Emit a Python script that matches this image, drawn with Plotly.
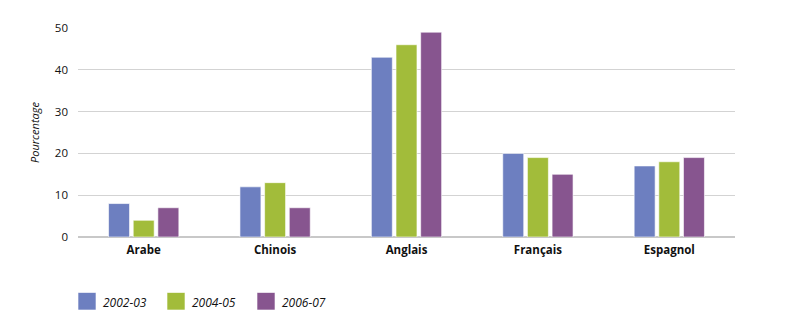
import plotly.graph_objects as go

categories = ["Arabe", "Chinois", "Anglais", "Français", "Espagnol"]
series_names = ["2002-03", "2004-05", "2006-07"]
v_2002 = [8, 12, 43, 20, 17]
v_2004 = [4, 13, 46, 19, 18]
v_2006 = [7, 7, 49, 15, 19]
colors = ["#6D7FC0", "#A2BC3A", "#87558F"]
y_ticks = [0, 10, 20, 30, 40, 50]

fig = go.Figure()
for name, vals, col in zip(series_names, [v_2002, v_2004, v_2006], colors):
    fig.add_trace(go.Bar(
        x=categories, y=vals, name=name, showlegend=False,
        marker=dict(color=col, line=dict(color="rgba(255,255,255,0.6)", width=1)),
    ))

# manual legend (paper coordinates, pixels converted)
W, H = 800, 327
ml, mr, mt, mb = 78, 65, 28, 90
pw, ph = W - ml - mr, H - mt - mb
def px_x(x):
    return (x - ml) / pw
def px_y(y):
    return (H - mb - y) / ph

legend_x = [78, 167, 257]
for name, col, lx in zip(series_names, colors, legend_x):
    fig.add_shape(type="rect", xref="paper", yref="paper",
                  x0=px_x(lx), x1=px_x(lx + 18), y0=px_y(310), y1=px_y(292.5),
                  fillcolor=col, line=dict(color="rgba(255,255,255,0.6)", width=1))
    fig.add_annotation(xref="paper", yref="paper", x=px_x(lx + 23), y=px_y(302),
                       text=f"<i>{name}</i>", showarrow=False, xanchor="left",
                       yanchor="middle", font=dict(size=12, color="#111"))

fig.update_layout(
    width=W, height=H,
    margin=dict(l=ml, r=mr, t=mt, b=mb, autoexpand=False),
    paper_bgcolor="white", plot_bgcolor="white",
    barmode="group", bargap=0.437, bargroupgap=0.15,
    font=dict(family="Open Sans", size=11.5, color="#111"),
    showlegend=False,
    xaxis=dict(showgrid=False, showline=False, ticks="", automargin=False,
               tickfont=dict(size=11.5, weight="bold"), ticklabelstandoff=4),
    yaxis=dict(range=[0, 50], tickvals=y_ticks, showgrid=True, gridcolor="#d3d3d3",
               gridwidth=1, zeroline=True, zerolinecolor="#c8c8c8", zerolinewidth=1.5,
               ticks="", ticklabelstandoff=9, automargin=False,
               title=dict(text="<i>Pourcentage</i>", font=dict(size=11), standoff=12)),
)

fig.write_html("out.html")
